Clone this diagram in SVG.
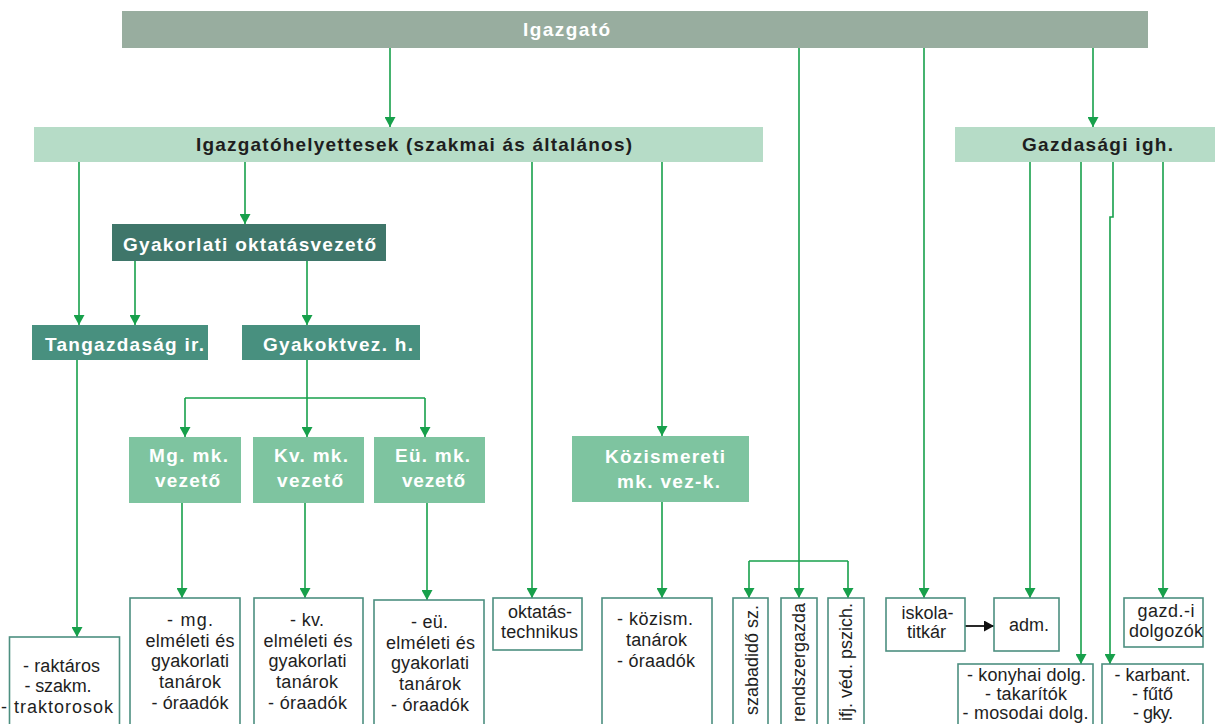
<svg xmlns="http://www.w3.org/2000/svg" width="1215" height="724" viewBox="0 0 1215 724">
<style>
.hb{font-family:"Liberation Sans",Arial,sans-serif;font-size:19px;font-weight:bold;text-anchor:middle}
.tx{font-family:"Liberation Sans",Arial,sans-serif;font-size:18px;fill:#1e1e1e;text-anchor:middle}
.vt{font-family:"Liberation Sans",Arial,sans-serif;font-size:18px;fill:#1e1e1e;text-anchor:end}
.w{fill:#ffffff}
.d{fill:#1e1e1e}
.c{fill:none;stroke:#17a04b;stroke-width:1.6}
.ca{fill:none;stroke:#17a04b;stroke-width:1.6;marker-end:url(#ag)}
.cb{fill:none;stroke:#111;stroke-width:1.8;marker-end:url(#ab)}
.bx{fill:#ffffff;stroke:#4d8f80;stroke-width:1.6}
</style>
<defs>
<marker id="ag" markerUnits="userSpaceOnUse" markerWidth="12" markerHeight="11" refX="10" refY="5.5" orient="auto" viewBox="0 0 10 11">
<path d="M0,0 L10,5.5 L0,11 z" fill="#17a04b"/>
</marker>
<marker id="ab" markerUnits="userSpaceOnUse" markerWidth="11" markerHeight="11" refX="10" refY="5.5" orient="auto" viewBox="0 0 10 11">
<path d="M0,0 L10,5.5 L0,11 z" fill="#111"/>
</marker>
</defs>
<rect width="1215" height="724" fill="#ffffff"/>

<g id="connectors">
<path class="ca" d="M390,48 V127"/>
<path class="ca" d="M1093,48 V127"/>
<path class="ca" d="M799,48 V598"/>
<path class="c" d="M749,561 H848"/>
<path class="ca" d="M749,561 V598"/>
<path class="ca" d="M848,561 V598"/>
<path class="ca" d="M924,48 V598"/>
<path class="ca" d="M79,162 V325"/>
<path class="ca" d="M245,162 V224"/>
<path class="ca" d="M532,162 V598"/>
<path class="ca" d="M662,162 V436"/>
<path class="ca" d="M135,261 V325"/>
<path class="ca" d="M307,261 V325"/>
<path class="ca" d="M77,360 V637"/>
<path class="ca" d="M307,360 V437"/>
<path class="c" d="M185,398 H425"/>
<path class="ca" d="M185,398 V437"/>
<path class="ca" d="M425,398 V437"/>
<path class="ca" d="M182,503 V598"/>
<path class="ca" d="M305,503 V598"/>
<path class="ca" d="M427,503 V600"/>
<path class="ca" d="M662,502 V598"/>
<path class="ca" d="M1030,162 V598"/>
<path class="ca" d="M1081,162 V664"/>
<path class="ca" d="M1113,162 V217 H1110 V664"/>
<path class="ca" d="M1163,162 V598"/>
<path class="cb" d="M965,626 H994"/>
</g>

<g id="igazgato">
<rect x="122" y="11" width="1026" height="37" fill="#98ad9f"/>
<text class="hb w" x="566.5" y="36" textLength="87">Igazgató</text>
</g>

<g id="igazgatohelyettesek">
<rect x="34" y="127" width="729" height="35" fill="#b6dcc7"/>
<text class="hb d" x="414" y="151" textLength="436">Igazgatóhelyettesek (szakmai ás általános)</text>
</g>

<g id="gazdasagi-igh">
<rect x="955" y="127" width="262" height="35" fill="#b6dcc7"/>
<text class="hb d" x="1097.5" y="151" textLength="151">Gazdasági igh.</text>
</g>

<g id="gyakorlati-oktatasvezeto">
<rect x="112" y="224" width="274" height="37" fill="#3f766a"/>
<text class="hb w" x="249.5" y="251" textLength="253">Gyakorlati oktatásvezető</text>
</g>

<g id="tangazdasag-ir">
<rect x="32" y="325" width="176" height="35" fill="#48907f"/>
<text class="hb w" x="124.5" y="351" textLength="159">Tangazdaság ir.</text>
</g>

<g id="gyakoktvez-h">
<rect x="242" y="325" width="178" height="35" fill="#48907f"/>
<text class="hb w" x="338" y="351" textLength="150">Gyakoktvez. h.</text>
</g>

<g id="mg-mk-vezeto">
<rect x="129" y="437" width="112" height="66" fill="#7ec4a0"/>
<text class="hb w" x="188.5" y="462" textLength="79">Mg. mk.</text>
<text class="hb w" x="187.5" y="487" textLength="65">vezető</text>
</g>

<g id="kv-mk-vezeto">
<rect x="253" y="437" width="111" height="66" fill="#7ec4a0"/>
<text class="hb w" x="311" y="462" textLength="74">Kv. mk.</text>
<text class="hb w" x="310" y="487" textLength="66">vezető</text>
</g>

<g id="eu-mk-vezeto">
<rect x="374" y="437" width="111" height="66" fill="#7ec4a0"/>
<text class="hb w" x="432.5" y="462" textLength="75">Eü. mk.</text>
<text class="hb w" x="433.5" y="487" textLength="63">vezető</text>
</g>

<g id="kozismereti-mk-vez">
<rect x="572" y="436" width="177" height="66" fill="#7ec4a0"/>
<text class="hb w" x="665" y="463" textLength="120">Közismereti</text>
<text class="hb w" x="668.5" y="488" textLength="103">mk. vez-k.</text>
</g>

<g id="raktaros">
<rect class="bx" x="9.5" y="637" width="110" height="95"/>
<text class="tx" x="61.5" y="672" textLength="77">- raktáros</text>
<text class="tx" x="58" y="692" textLength="67">- szakm.</text>
<text class="tx" x="57" y="713" textLength="112">- traktorosok</text>
</g>

<g id="mg-tanarok">
<rect class="bx" x="130" y="598" width="110" height="134"/>
<text class="tx" x="190" y="626" textLength="46">- mg.</text>
<text class="tx" x="190" y="647" textLength="89">elméleti és</text>
<text class="tx" x="190" y="667" textLength="78">gyakorlati</text>
<text class="tx" x="190" y="688" textLength="62">tanárok</text>
<text class="tx" x="190" y="709" textLength="77">- óraadók</text>
</g>

<g id="kv-tanarok">
<rect class="bx" x="254" y="598" width="109" height="134"/>
<text class="tx" x="307" y="626" textLength="34">- kv.</text>
<text class="tx" x="308" y="647" textLength="89">elméleti és</text>
<text class="tx" x="307.5" y="667" textLength="78">gyakorlati</text>
<text class="tx" x="307" y="688" textLength="62">tanárok</text>
<text class="tx" x="307.5" y="709" textLength="79">- óraadók</text>
</g>

<g id="eu-tanarok">
<rect class="bx" x="374" y="600" width="110" height="132"/>
<text class="tx" x="429.5" y="628" textLength="37">- eü.</text>
<text class="tx" x="430.5" y="649" textLength="89">elméleti és</text>
<text class="tx" x="430" y="669" textLength="78">gyakorlati</text>
<text class="tx" x="430" y="690" textLength="62">tanárok</text>
<text class="tx" x="430" y="711" textLength="78">- óraadók</text>
</g>

<g id="oktatastechnikus">
<rect class="bx" x="493" y="598" width="89" height="52"/>
<text class="tx" x="540" y="618" textLength="64">oktatás-</text>
<text class="tx" x="539.5" y="638" textLength="77">technikus</text>
</g>

<g id="kozism-tanarok">
<rect class="bx" x="602" y="598" width="110" height="134"/>
<text class="tx" x="655" y="625" textLength="76">- közism.</text>
<text class="tx" x="656.5" y="646" textLength="61">tanárok</text>
<text class="tx" x="656" y="667" textLength="78">- óraadók</text>
</g>

<g id="szabadido-sz">
<rect class="bx" x="733" y="598" width="35" height="134"/>
<text class="vt" transform="translate(758,605) rotate(-90)">szabadidő sz.</text>
</g>

<g id="rendszergazda">
<rect class="bx" x="781" y="598" width="36" height="134"/>
<text class="vt" transform="translate(805,603) rotate(-90)">rendszergazda</text>
</g>

<g id="ifj-ved-pszich">
<rect class="bx" x="828" y="598" width="36" height="134"/>
<text class="vt" transform="translate(852,603) rotate(-90)">ifj. véd. pszich.</text>
</g>

<g id="iskolatitkar">
<rect class="bx" x="886" y="598" width="79" height="53"/>
<text class="tx" x="927.5" y="619" textLength="52">iskola-</text>
<text class="tx" x="926.5" y="638" textLength="39">titkár</text>
</g>

<g id="adm">
<rect class="bx" x="994" y="598" width="65" height="53"/>
<text class="tx" x="1029" y="631" textLength="40">adm.</text>
</g>

<g id="gazd-dolgozok">
<rect class="bx" x="1124" y="598" width="79" height="49"/>
<text class="tx" x="1166" y="617" textLength="57">gazd.-i</text>
<text class="tx" x="1166" y="637" textLength="74">dolgozók</text>
</g>

<g id="konyhai">
<rect class="bx" x="958" y="664" width="135" height="68"/>
<text class="tx" x="1026.5" y="681" textLength="119">- konyhai dolg.</text>
<text class="tx" x="1026" y="700" textLength="82">- takarítók</text>
<text class="tx" x="1025.5" y="719" textLength="126">- mosodai dolg.</text>
</g>

<g id="karbant">
<rect class="bx" x="1102" y="664" width="101" height="68"/>
<text class="tx" x="1152.5" y="681" textLength="76">- karbant.</text>
<text class="tx" x="1152.5" y="700" textLength="41">- fűtő</text>
<text class="tx" x="1153" y="719" textLength="40">- gky.</text>
</g>
</svg>
